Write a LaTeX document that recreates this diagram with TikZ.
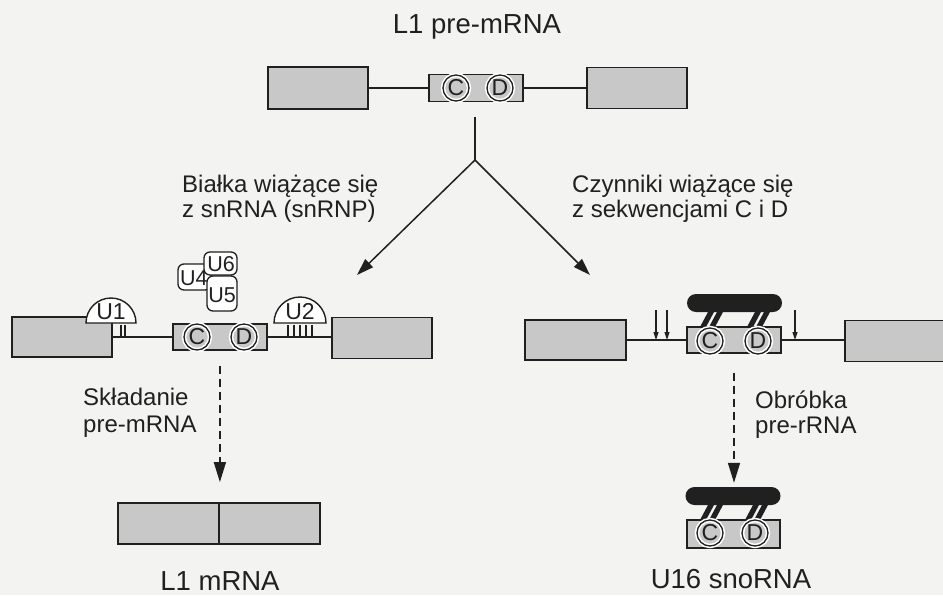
\documentclass[tikz,border=0pt]{standalone}
\usepackage{fontspec}
\setmainfont{Liberation Sans}
\usetikzlibrary{arrows.meta}
\definecolor{ink}{RGB}{32,32,32}
\definecolor{boxgray}{RGB}{200,200,200}
\definecolor{bg}{RGB}{243,243,241}
\newcommand\snostripes[2]{%
  \fill[ink] ({#1-10},{#2+15}) -- ({#1-4},{#2+15}) -- ({#1+4},{#2}) -- ({#1-2},{#2}) -- cycle;
  \fill[ink] ({#1-1},{#2+15}) -- ({#1+5},{#2+15}) -- ({#1+13},{#2}) -- ({#1+7},{#2}) -- cycle;
}
\begin{document}
\begin{tikzpicture}[x=1pt,y=-1pt,
  exon/.style={draw=ink, fill=boxgray, line width=1.8pt, inner sep=0pt},
  cd/.style={circle, draw=ink, line width=1.3pt, minimum size=26pt, inner sep=0pt,
    text=ink, font=\fontsize{23}{23}\selectfont, preaction={draw=white, line width=4.5pt}},
  lbl/.style={text=ink, inner sep=0pt, text height=16pt, text depth=2pt, font=\fontsize{24}{24}\selectfont},
  biglbl/.style={text=ink, inner sep=0pt, font=\fontsize{27.5}{27.5}\selectfont},
  ulbl/.style={text=ink, inner sep=0pt, font=\fontsize{23}{23}\selectfont},
  snlbl/.style={text=ink, inner sep=0pt, text height=15pt, text depth=0pt, font=\fontsize{21.5}{21.5}\selectfont},
  snbox/.style={draw=ink, fill=white, rounded corners=6pt, line width=1.3pt, inner sep=0pt},
  wire/.style={draw=ink, line width=1.6pt},
  tick/.style={draw=ink, line width=1.1pt},
  blackbar/.style={fill=ink, rounded corners=9pt, minimum width=95pt, minimum height=18pt, inner sep=0pt},
  bigarrow/.style={draw=ink, line width=1.5pt, -{Triangle[length=17pt,width=11pt]}},
  dasharrow/.style={draw=ink, line width=1.5pt, dash pattern=on 8pt off 5pt, -{Triangle[length=20pt,width=12pt]}},
  smallarrow/.style={draw=ink, line width=1.1pt, -{Triangle[length=8pt,width=5pt]}}
]
\fill[bg] (0,0) rectangle (943,595);
\clip (0,0) rectangle (943,595);

% ---------- top: L1 pre-mRNA ----------
\node[biglbl, anchor=base] (title) at (477,33) {L1 pre-mRNA};
\node[exon, minimum width=100pt, minimum height=42pt] (tL) at (318,88) {};
\node[exon, minimum width=94pt, minimum height=27pt] (tM) at (476,88) {};
\node[exon, minimum width=100pt, minimum height=41pt] (tR) at (637,88) {};
\draw[wire] (tL.east) -- (tM.west);
\draw[wire] (tM.east) -- (tR.west);
\node[cd] (tC) at (456,88) {C};
\node[cd] (tD) at (500,88) {D};

% ---------- branching ----------
\coordinate (stem) at (475,117);
\coordinate (br) at (475,160);
\coordinate (tipL) at (357,275);
\coordinate (tipR) at (590,275);
\draw[wire] (stem) -- (br);
\draw[bigarrow] (br) -- (tipL);
\draw[bigarrow] (br) -- (tipR);

\node[lbl, anchor=base west] (lA1) at (182,192) {Białka wiążące się};
\node[lbl, anchor=base west] (lA2) at (182,217) {z snRNA (snRNP)};
\node[lbl, anchor=base west] (lB1) at (572,192) {Czynniki wiążące się};
\node[lbl, anchor=base west] (lB2) at (572,217) {z sekwencjami C i D};

% ---------- left middle: spliceosome ----------
\node[exon, minimum width=100pt, minimum height=40pt] (mL) at (62,337) {};
\node[exon, minimum width=94pt, minimum height=26pt] (mM) at (220,337) {};
\node[exon, minimum width=100pt, minimum height=41pt] (mR) at (382,338) {};
\draw[wire] (mL.east |- 0,337) -- (mM.west);
\draw[wire] (mM.east) -- (mR.west |- 0,337);
\node[cd] (mC) at (197,337) {C};
\node[cd] (mD) at (244,337) {D};

% U1
\draw[draw=ink, fill=white, line width=1.4pt] (86,323) arc[start angle=180, end angle=360, radius=25] -- cycle;
\node[ulbl] (u1) at (111,312) {U1};
\draw[tick] (121,325) -- (121,337);
\draw[tick] (125,325) -- (125,337);
% U2
\draw[draw=ink, fill=white, line width=1.4pt] (274,323) arc[start angle=180, end angle=360, radius=26] -- cycle;
\node[ulbl] (u2) at (300,312) {U2};
\foreach \tx in {288,294,300,306,312} \draw[tick] (\tx,325) -- (\tx,337);

% U4 U6 U5
\node[snbox, minimum width=33pt, minimum height=26pt] (u4) at (194.5,277) {};
\node[snbox, minimum width=33pt, minimum height=23pt] (u6) at (220.5,263.5) {};
\node[snbox, minimum width=30pt, minimum height=35pt] (u5) at (222,293.5) {};
\node[snlbl, anchor=base west] (u4t) at (180,285) {U4};
\node[snlbl, anchor=base] (u6t) at (221,271) {U6};
\node[snlbl, anchor=base] (u5t) at (222,302) {U5};

% ---------- right middle: processing ----------
\node[exon, minimum width=101pt, minimum height=40pt] (rL) at (575.5,340) {};
\node[exon, minimum width=94pt, minimum height=26pt] (rM) at (734,340) {};
\node[exon, minimum width=100pt, minimum height=41pt] (rR) at (895,341) {};
\draw[wire] (rL.east) -- (rM.west);
\draw[wire] (rM.east) -- (rR.west |- 0,340);
\node[blackbar] (rBar) at (734.5,303) {};
\snostripes{710}{312}
\snostripes{757}{312}
\node[cd] (rC) at (710,341) {C};
\node[cd] (rD) at (758,341) {D};
\coordinate (cut1) at (656,310);
\coordinate (cut2) at (667,310);
\coordinate (cut3) at (795,310);
\draw[smallarrow] (cut1) -- (cut1 |- 0,340);
\draw[smallarrow] (cut2) -- (cut2 |- 0,340);
\draw[smallarrow] (cut3) -- (cut3 |- 0,340);

% ---------- bottom left: L1 mRNA ----------
\node[exon, minimum width=101pt, minimum height=41pt] (bL1) at (168.5,523.5) {};
\node[exon, minimum width=101pt, minimum height=41pt] (bL2) at (269.5,523.5) {};
\node[biglbl, anchor=base] (mrna) at (220,590) {L1 mRNA};
\draw[dasharrow, shorten <=15pt, shorten >=20pt] (mM.south -| bL1.east) -- (bL1.north east);
\node[lbl, anchor=base west] (sk1) at (83,405) {Składanie};
\node[lbl, anchor=base west] (sk2) at (83,432) {pre-mRNA};

% ---------- bottom right: U16 snoRNA ----------
\node[blackbar] (bBar) at (733,496) {};
\node[exon, minimum width=93pt, minimum height=28pt] (bM) at (733.5,534) {};
\snostripes{710}{505}
\snostripes{755}{505}
\node[cd] (bC) at (710,533) {C};
\node[cd] (bD) at (755,533) {D};
\node[biglbl, anchor=base] (sno) at (731,588) {U16 snoRNA};
\draw[dasharrow, shorten <=19pt, shorten >=4pt] (rM.south) -- (rM.south |- bBar.north);
\node[lbl, anchor=base west] (ob1) at (755,408) {Obróbka};
\node[lbl, anchor=base west] (ob2) at (755,433) {pre-rRNA};
\end{tikzpicture}
\end{document}
